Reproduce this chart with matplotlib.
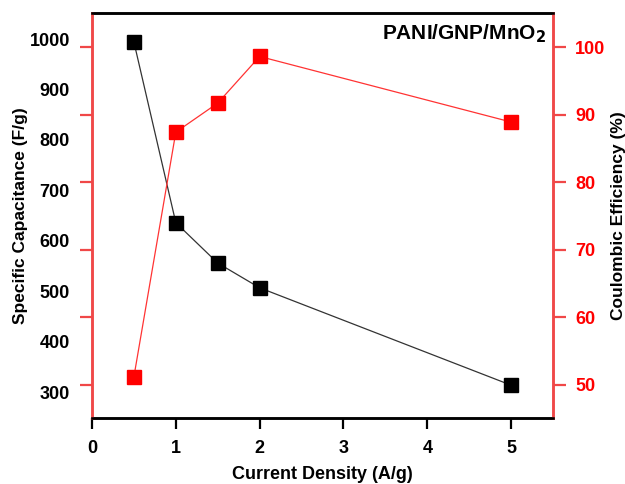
import matplotlib
matplotlib.use("Agg")
import matplotlib.pyplot as plt

plt.rcParams['font.family'] = ['Liberation Sans', 'DejaVu Sans']
plt.rcParams['font.weight'] = 'bold'

current_density = [0.5, 1.0, 1.5, 2.0, 5.0]
capacitance = [994, 636, 556, 507, 314]
efficiency = [51.2, 87.4, 91.7, 98.6, 88.9]
cap_ticks = [300, 400, 500, 600, 700, 800, 900, 1000]
eff_ticks = [50, 60, 70, 80, 90, 100]
x_ticks = [0, 1, 2, 3, 4, 5]

spine_red = '#f04848'

fig = plt.figure(figsize=(6.25, 4.84), dpi=100)
ax = fig.add_axes([0.1472, 0.1364, 0.8848 - 0.1472, 0.9731 - 0.1364])
ax2 = ax.twinx()

ax.plot(current_density, capacitance, color='#333333', lw=0.9, marker='s',
        ms=9.5, mfc='black', mec='black', zorder=3)
ax2.plot(current_density, efficiency, color='#ff3333', lw=0.9, marker='s',
         ms=9.5, mfc='#ff0000', mec='#ff0000', zorder=3)

ax.set_xlim(0, 5.5)
ax.set_ylim(249, 1051.5)
ax2.set_ylim(45.1, 105.03)

ax.set_xticks(x_ticks)
ax.set_yticks(cap_ticks)
ax2.set_yticks(eff_ticks)

ax.tick_params(axis='x', direction='out', length=8, width=1.6, labelsize=13,
               pad=8, color='black')
ax.tick_params(axis='y', length=0, labelsize=13, pad=16, labelcolor='black')
ax2.yaxis.set_ticks_position('both')
ax2.tick_params(axis='y', which='both', direction='out', length=9, width=1.6,
                color=spine_red, labelcolor='#ff0000', labelsize=13, pad=7,
                left=True, right=True, labelleft=False, labelright=True)

for a in (ax, ax2):
    a.spines['left'].set_color(spine_red)
    a.spines['right'].set_color(spine_red)
    a.spines['top'].set_color('black')
    a.spines['bottom'].set_color('black')
    for s in a.spines.values():
        s.set_linewidth(1.8)

for lab in ax.get_xticklabels() + ax.get_yticklabels() + ax2.get_yticklabels():
    lab.set_fontweight('bold')

ax.set_xlabel('Current Density (A/g)', fontsize=13, fontweight='bold', labelpad=6)
ax.set_ylabel('Specific Capacitance (F/g)', fontsize=12.5, fontweight='bold', labelpad=1)
ax2.set_ylabel('Coulombic Efficiency (%)', fontsize=12.5, fontweight='bold',
               color='black', labelpad=4)

ax.text(0.985, 0.948, 'PANI/GNP/MnO$_\\mathbf{2}$', transform=ax.transAxes,
        ha='right', va='center', fontsize=15, fontweight='bold')

fig.savefig('out.png', dpi=100)
